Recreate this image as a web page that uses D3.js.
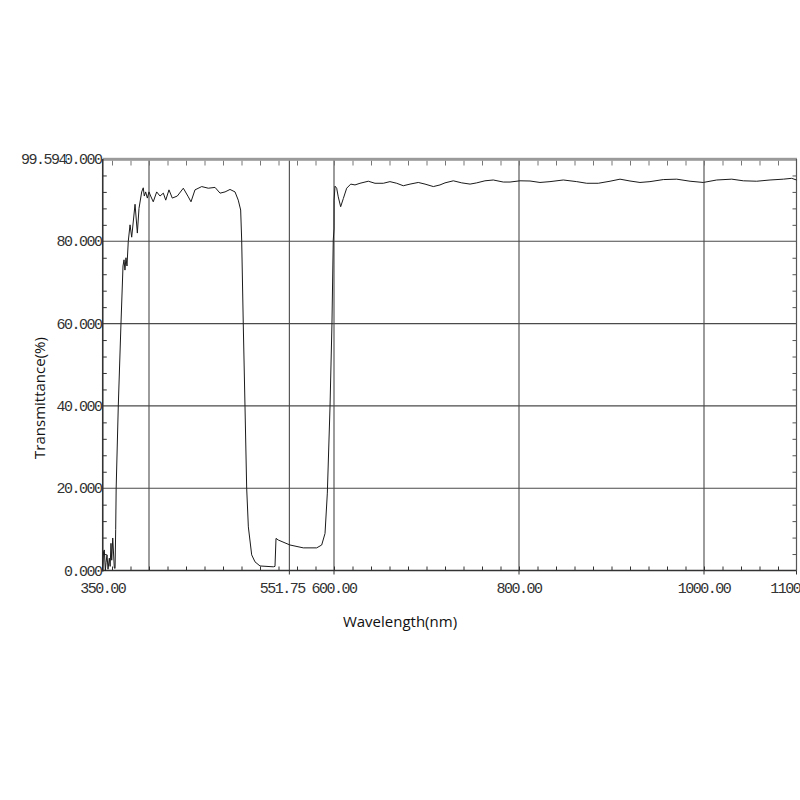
<!DOCTYPE html>
<html>
<head>
<meta charset="utf-8">
<script src="https://cdn.jsdelivr.net/npm/d3@7"></script>
<style>
  html, body { margin: 0; padding: 0; background: #fff; }
  svg { display: block; }
</style>
</head>
<body>
<svg id="chart" width="800" height="800"></svg>
<script>
// ---- data ----
const wavelengths = [
  350.0, 350.8, 351.7, 352.8, 353.6, 354.6, 355.7, 357.1, 358.0, 358.9, 359.7, 360.8, 362.5, 363.3,
  364.0, 364.5, 366.8, 369.7, 371.9, 373.0, 374.0, 375.1, 376.2, 377.6, 379.5, 381.3, 384.9, 387.4,
  389.2, 392.1, 393.8, 394.9, 396.4, 398.2, 400.0, 401.8, 404.6, 408.3, 411.9, 415.5, 418.1, 421.6,
  425.2, 430.6, 437.1, 442.5, 445.4, 449.7, 457.0, 464.1, 471.4, 476.8, 482.2, 487.6, 493.0, 496.5,
  499.1, 500.2, 501.9, 503.8, 505.6, 507.4, 511.0, 514.6, 520.0, 534.4, 536.2, 537.3, 539.8, 552.4,
  566.8, 581.3, 586.7, 590.3, 592.8, 595.7, 597.8, 599.2, 600.0, 600.1, 601.1, 602.9, 604.6, 607.2,
  610.1, 613.7, 618.1, 622.7, 628.1, 637.1, 644.3, 653.3, 660.5, 667.8, 674.9, 682.2, 691.1, 698.4,
  707.4, 714.6, 720.0, 729.0, 738.1, 747.1, 754.3, 763.2, 772.2, 783.0, 790.3, 801.1, 811.9, 822.7,
  833.5, 847.9, 862.4, 873.2, 885.7, 898.4, 909.2, 920.0, 930.8, 941.6, 956.0, 970.5, 984.9, 999.2,
  1013.7, 1030.0, 1042.5, 1057.0, 1071.4, 1085.8, 1094.8, 1100.0
];
const transmittance = [
  0.0, 4.5, 5.0, 0.0, 2.0, 3.8, 0.3, 3.0, 1.0, 6.6, 2.5, 7.9, 0.6, 0.5,
  10.0, 20.0, 40.0, 60.0, 74.0, 75.5, 73.0, 76.0, 74.0, 80.0, 84.0, 81.0, 89.0, 82.0,
  88.0, 92.0, 93.0, 91.0, 92.0, 90.5, 92.0, 91.0, 89.6, 92.0, 91.0, 91.7, 90.0, 92.5,
  90.5, 91.0, 92.9, 90.8, 89.6, 92.5, 93.3, 92.9, 93.1, 91.7, 92.0, 92.6, 92.0, 90.0,
  87.6, 80.3, 60.0, 39.8, 20.0, 10.6, 3.8, 2.1, 1.1, 0.9, 1.0, 7.8, 7.4, 6.2,
  5.5, 5.5, 6.2, 9.0, 18.8, 39.8, 60.0, 80.3, 83.0, 90.0, 93.4, 92.9, 90.8, 88.4,
  90.4, 92.9, 93.9, 93.7, 94.1, 94.6, 94.1, 94.1, 94.5, 94.1, 93.5, 93.9, 94.3, 93.9,
  93.3, 93.7, 94.2, 94.7, 94.2, 93.9, 94.2, 94.7, 94.9, 94.4, 94.4, 94.7, 94.65, 94.3,
  94.5, 94.9, 94.5, 94.1, 94.1, 94.6, 95.1, 94.65, 94.3, 94.5, 95.0, 95.1, 94.6, 94.3,
  94.9, 95.1, 94.7, 94.6, 94.9, 95.1, 95.3, 94.9
];
const xTickValues = [350, 551.75, 600, 800, 1000, 1100];
const xTickLabels = ["350.00", "551.75", "600.00", "800.00", "1000.00", "1100.00"];
const xGridValues = [400, 551.75, 600, 800, 1000];
const yTickValues = [0, 20, 40, 60, 80, 100];
const yTickLabels = ["0.000", "20.000", "40.000", "60.000", "80.000", "100.000"];
const yGridValues = [20, 40, 60, 80];
const yMaxLabel = "99.594";
const xTitle = "Wavelength(nm)";
const yTitle = "Transmittance(%)";

// ---- layout ----
const svg = d3.select("#chart");
const L = 102.75, R = 796.5, T = 159, B = 570.5;
const x = d3.scaleLinear().domain([350, 1100]).range([L, R]);
const y = d3.scaleLinear().domain([0, 100]).range([B, T]);

const tickFont = "'Liberation Mono', 'DejaVu Sans Mono', monospace";
const titleFont = "'Open Sans', 'Noto Sans', sans-serif";
const tickSize = 15, tickSpacing = "-1.5px";

// grid
svg.append("g").selectAll("line").data(xGridValues).join("line")
  .attr("x1", d => x(d)).attr("x2", d => x(d))
  .attr("y1", T).attr("y2", B)
  .attr("stroke", "#4a4a4a").attr("stroke-width", 1.1);
svg.append("g").selectAll("line").data(yGridValues).join("line")
  .attr("x1", L).attr("x2", R)
  .attr("y1", d => y(d)).attr("y2", d => y(d))
  .attr("stroke", "#4a4a4a").attr("stroke-width", 1.1);

// minor ticks
const xMinor = d3.range(360, 1100, 20);
const yMinor = d3.range(4, 100, 4).filter(v => v % 20 !== 0);
svg.append("g").call(d3.axisTop(x).tickValues(xMinor).tickSize(4).tickFormat(""))
  .attr("transform", `translate(0,${B})`)
  .call(g => g.select(".domain").remove())
  .call(g => g.selectAll("line").attr("stroke", "#333"));
svg.append("g").call(d3.axisBottom(x).tickValues(xMinor).tickSize(5).tickFormat(""))
  .attr("transform", `translate(0,${T + 1.5})`)
  .call(g => g.select(".domain").remove())
  .call(g => g.selectAll("line").attr("stroke", "#777"));
svg.append("g").call(d3.axisRight(y).tickValues(yMinor).tickSize(4).tickFormat(""))
  .attr("transform", `translate(${L},0)`)
  .call(g => g.select(".domain").remove())
  .call(g => g.selectAll("line").attr("stroke", "#333"));
svg.append("g").call(d3.axisLeft(y).tickValues(yMinor).tickSize(4).tickFormat(""))
  .attr("transform", `translate(${R},0)`)
  .call(g => g.select(".domain").remove())
  .call(g => g.selectAll("line").attr("stroke", "#555"));

// frame
svg.append("rect").attr("x", L).attr("y", T - 1.2).attr("width", R - L + 0.5).attr("height", 3)
  .attr("fill", "#9a9a9a");
svg.append("line").attr("x1", R).attr("x2", R).attr("y1", T).attr("y2", B)
  .attr("stroke", "#555").attr("stroke-width", 1.2);
svg.append("line").attr("x1", L).attr("x2", L).attr("y1", T).attr("y2", B + 1)
  .attr("stroke", "#333").attr("stroke-width", 1.6);
svg.append("line").attr("x1", L - 1).attr("x2", R).attr("y1", B).attr("y2", B)
  .attr("stroke", "#333").attr("stroke-width", 1.6);

svg.append("g").selectAll("line").data(xTickValues.filter(v => v !== 350)).join("line")
  .attr("x1", d => x(d)).attr("x2", d => x(d))
  .attr("y1", B).attr("y2", B + 4)
  .attr("stroke", "#333").attr("stroke-width", 1);

// curve
const pts = wavelengths.map((w, i) => [w, transmittance[i]]);
const line = d3.line().x(d => x(d[0])).y(d => y(d[1])).curve(d3.curveLinear);
svg.append("path").datum(pts)
  .attr("d", line)
  .attr("fill", "none")
  .attr("stroke", "#1a1a1a")
  .attr("stroke-width", 1)
  .attr("stroke-linejoin", "round");

// x tick labels (551.75 nudged left so it does not collide with 600.00, as in the reference)
svg.append("g").selectAll("text").data(xTickValues).join("text")
  .attr("x", d => x(d) + (d === 551.75 ? -7 : 0)).attr("y", 592.5)
  .attr("text-anchor", "middle")
  .attr("font-family", tickFont).attr("font-size", tickSize)
  .attr("letter-spacing", tickSpacing)
  .attr("fill", "#333")
  .text((d, i) => xTickLabels[i]);

// y tick labels
svg.append("g").selectAll("text").data(yTickValues).join("text")
  .attr("x", 101.5).attr("y", d => y(d) + 5)
  .attr("text-anchor", "end")
  .attr("font-family", tickFont).attr("font-size", tickSize)
  .attr("letter-spacing", tickSpacing)
  .attr("fill", "#333")
  .text((d, i) => yTickLabels[i]);

// overlaid max readout
svg.append("rect").attr("x", 18).attr("y", 150).attr("width", 48).attr("height", 16).attr("fill", "#fff");
svg.append("text").attr("x", 21).attr("y", y(100) + 5)
  .attr("font-family", tickFont).attr("font-size", tickSize)
  .attr("letter-spacing", tickSpacing)
  .attr("fill", "#333")
  .text(yMaxLabel);

// axis titles
svg.append("text").attr("x", 400).attr("y", 627)
  .attr("text-anchor", "middle")
  .attr("font-family", titleFont).attr("font-size", 15)
  .attr("fill", "#111")
  .text(xTitle);
svg.append("text")
  .attr("transform", "translate(45,398) rotate(-90)")
  .attr("text-anchor", "middle")
  .attr("font-family", titleFont).attr("font-size", 15)
  .attr("fill", "#111")
  .text(yTitle);
</script>
</body>
</html>
